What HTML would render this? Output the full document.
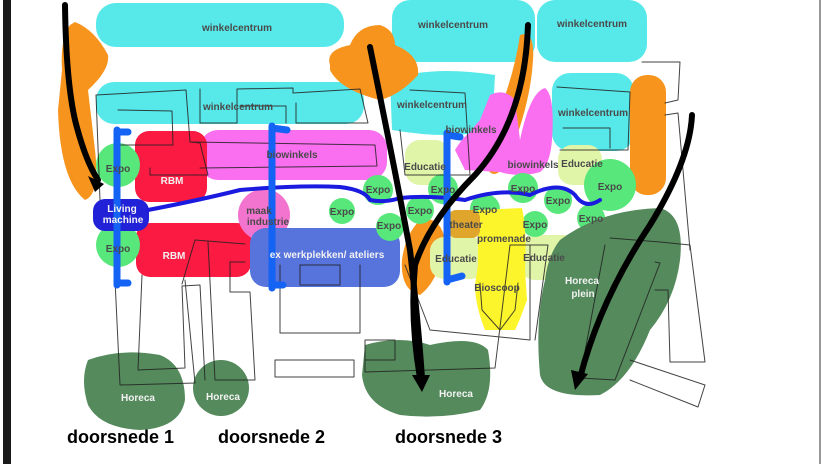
<!DOCTYPE html>
<html><head><meta charset="utf-8"><style>
html,body{margin:0;padding:0;background:#fff}
svg{display:block}
text{font-family:"Liberation Sans",Arial,sans-serif;font-weight:bold;font-size:10px;text-anchor:middle}
text.big{font-size:18px;fill:#000;text-anchor:start}
.d{fill:#4a4a4a}.w{fill:#f2f2f2}
</style></head><body>
<svg width="825" height="464" viewBox="0 0 825 464" xmlns="http://www.w3.org/2000/svg">
<rect x="0" y="0" width="825" height="464" fill="#fff"/>
<rect x="3" y="0" width="8" height="464" fill="#1a1a1a"/>
<rect x="819" y="0" width="2" height="464" fill="#999"/>
<g stroke-linecap="round" stroke-linejoin="round">
<rect x="96" y="3" width="248" height="44" rx="20" fill="#57e9ea"/>
<rect x="392" y="0" width="143" height="62" rx="18" fill="#57e9ea"/>
<rect x="537" y="0" width="110" height="62" rx="18" fill="#57e9ea"/>
<rect x="96" y="82" width="268" height="42" rx="18" fill="#57e9ea"/>
<path d="M390 80 Q430 65 495 75 L492 130 Q450 140 392 130 Z" fill="#57e9ea"/>
<rect x="552" y="73" width="82" height="78" rx="18" fill="#57e9ea"/>
<path d="M70 25 Q60 40 62 70 L58 110 Q60 180 85 200 Q100 195 95 150 L88 90 Q110 70 108 55 Q95 30 75 22Z" fill="#f7941d"/>
<path d="M330 65 Q325 50 350 45 Q358 25 380 25 Q395 30 395 45 Q420 55 418 75 Q400 95 380 100 Q340 90 330 70Z" fill="#f7941d"/>
<path d="M520 35 Q535 30 533 60 Q530 110 505 165 Q495 180 488 170 Q485 150 500 110 Q515 70 520 35Z" fill="#f7941d"/>
<rect x="630" y="75" width="36" height="120" rx="17" fill="#f7941d"/>
<path d="M420 220 Q440 215 445 240 Q440 280 420 295 Q400 290 402 260 Q405 235 420 220Z" fill="#f7941d"/>
<rect x="200" y="130" width="187" height="50" rx="18" fill="#fa6ef0"/>
<path d="M465 170 Q460 140 480 120 L490 95 Q505 88 515 100 L520 140 Q530 92 545 88 Q555 95 552 140 Q550 165 540 172 Q520 178 500 172 Z" fill="#fa6ef0"/>
<path d="M455 150 Q470 125 485 130 L495 140 Q485 165 465 170Z" fill="#fa6ef0"/>
<rect x="135" y="131" width="72" height="71" rx="14" fill="#fb1a41"/>
<rect x="136" y="223" width="115" height="54" rx="14" fill="#fb1a41"/>
<circle cx="264" cy="215" r="26" fill="#f274cf"/>
<rect x="250" y="228" width="150" height="59" rx="16" fill="#5773dc"/>
<rect x="405" y="140" width="45" height="45" rx="15" fill="#e1f5a9"/>
<rect x="558" y="145" width="44" height="40" rx="14" fill="#e1f5a9"/>
<rect x="430" y="237" width="55" height="42" rx="14" fill="#e1f5a9"/>
<rect x="520" y="235" width="58" height="45" rx="15" fill="#e1f5a9"/>
<g fill="#57e77a">
<circle cx="118" cy="165" r="22"/><circle cx="118" cy="245" r="22"/>
<circle cx="378" cy="190" r="15"/><circle cx="342" cy="211" r="13"/>
<circle cx="390" cy="227" r="14"/><circle cx="420" cy="210" r="14"/>
<circle cx="443" cy="189" r="15"/><circle cx="485" cy="209" r="15"/>
<circle cx="523" cy="188" r="15"/><circle cx="558" cy="200" r="14"/>
<circle cx="610" cy="185" r="26"/><circle cx="591" cy="218" r="14"/>
<circle cx="535" cy="224" r="13"/>
</g>
<path d="M478 210 L522 208 Q527 230 525 270 L527 300 Q520 320 515 330 L485 330 Q475 305 475 285 L478 265 Z" fill="#fdf52c"/>
<rect x="448" y="210" width="32" height="28" rx="8" fill="#e0a52b"/>
<path d="M88 360 Q120 348 160 355 Q185 365 185 400 Q180 428 140 430 Q100 428 88 405 Q80 380 88 360Z" fill="#548a5c"/>
<circle cx="221" cy="388" r="28" fill="#548a5c"/>
<path d="M365 345 Q400 335 430 345 Q475 335 488 350 Q495 390 480 410 Q440 420 400 415 Q365 405 362 375Z" fill="#548a5c"/>
<path d="M560 240 Q600 210 660 208 Q685 215 680 260 Q675 300 650 330 Q630 380 600 395 Q545 398 540 375 Q535 320 545 280 Q548 255 560 240Z" fill="#548a5c"/>
<rect x="93" y="199" width="56" height="32" rx="12" fill="#2121d8"/>
<g fill="none" stroke="#222" stroke-width="1" opacity="0.85">
<polyline points="96,95 186,90 190,142 200,143 208,175 150,175 150,168"/>
<polyline points="118,110 172,111 173,145 120,145"/>
<polyline points="200,89 200,123 237,123 237,89 293,88 293,93 360,89 368,123 296,123 296,103"/>
<polyline points="240,106 286,106 286,123"/>
<polyline points="190,142 375,145 377,166 200,168"/>
<polyline points="96,95 100,200"/>
<polyline points="115,280 120,385 195,383 185,280"/>
<polyline points="142,275 138,370 185,368 182,286 200,285 205,380"/>
<polyline points="208,242 215,380 255,380 250,292 230,292 230,262 245,262"/>
<polyline points="182,284 195,240 245,244"/>
<polyline points="280,265 280,333 360,333 360,265"/>
<polyline points="300,265 340,265 340,285 300,285 300,265"/>
<rect x="275" y="360" width="79" height="17"/>
<polyline points="365,340 395,340 395,360 365,360 365,340"/>
<polyline points="365,357 365,372 430,370 495,368 510,245 548,245 535,340"/>
<polyline points="400,130 405,175 470,175 465,93 410,90"/>
<polyline points="405,265 430,330 530,340 530,245"/>
<polyline points="480,283 482,310 500,330 515,310 518,283"/>
<polyline points="610,238 660,242 690,245 705,362 670,362 668,290 655,290"/>
<polyline points="605,245 580,378 615,380 660,263 655,262"/>
<polyline points="642,62 680,62 678,100 665,103"/>
<polyline points="665,115 678,113 690,250"/>
<polyline points="630,360 705,385 698,407 630,380"/>
<polyline points="557,87 630,92 628,150 560,150"/>
<polyline points="563,128 610,128 610,148"/>
</g>
<path d="M148 210 Q200 200 240 190 Q300 185 340 187 Q365 190 370 200 Q385 203 400 198 Q430 195 465 200 Q500 188 530 195 Q560 180 575 195 Q585 210 600 200" fill="none" stroke="#1b1be0" stroke-width="4"/>
<g stroke="#1463f5" stroke-width="7" fill="none">
<path d="M117 130 L117 285 M117 132 L128 132 M117 283 L128 283"/>
<path d="M272 126 L272 288 M272 128 L287 130 M272 285 L283 285"/>
<path d="M447 133 L447 282 M447 135 L460 137 M447 280 L462 276"/>
</g>
<g stroke="#000" stroke-width="6" fill="none">
<path d="M65 5 Q66 80 75 120 Q85 160 98 180"/>
<path d="M370 47 Q395 170 410 250 Q418 320 422 378"/>
<path d="M528 25 Q525 120 475 175 Q430 220 415 265 Q410 320 420 378"/>
<path d="M692 115 Q690 160 650 225 Q600 300 580 378"/>
</g>
<g fill="#000" stroke="none">
<path d="M88 176 L104 184 L95 192Z"/>
<path d="M412 375 L430 375 L422 392Z"/>
<path d="M571 370 L588 374 L575 390Z"/>
</g>
</g>
<text x="237" y="31" class="d">winkelcentrum</text>
<text x="453" y="28" class="d">winkelcentrum</text>
<text x="592" y="27" class="d">winkelcentrum</text>
<text x="238" y="110" class="d">winkelcentrum</text>
<text x="432" y="108" class="d">winkelcentrum</text>
<text x="593" y="116" class="d">winkelcentrum</text>
<text x="292" y="158" class="d">biowinkels</text>
<text x="471" y="133" class="d">biowinkels</text>
<text x="533" y="168" class="d">biowinkels</text>
<text x="425" y="170" class="d">Educatie</text>
<text x="582" y="167" class="d">Educatie</text>
<text x="456" y="262" class="d">Educatie</text>
<text x="544" y="261" class="d">Educatie</text>
<text x="172" y="184" class="w">RBM</text>
<text x="174" y="259" class="w">RBM</text>
<text x="118" y="172" class="d">Expo</text>
<text x="118" y="252" class="d">Expo</text>
<text x="378" y="193" class="d">Expo</text>
<text x="342" y="215" class="d">Expo</text>
<text x="389" y="229" class="d">Expo</text>
<text x="420" y="214" class="d">Expo</text>
<text x="443" y="193" class="d">Expo</text>
<text x="485" y="213" class="d">Expo</text>
<text x="523" y="192" class="d">Expo</text>
<text x="558" y="204" class="d">Expo</text>
<text x="610" y="190" class="d">Expo</text>
<text x="591" y="222" class="d">Expo</text>
<text x="535" y="228" class="d">Expo</text>
<text x="466" y="228" class="d">theater</text>
<text x="504" y="242" class="d">promenade</text>
<text x="497" y="291" class="d">Bioscoop</text>
<text x="122" y="212" class="w">Living</text>
<text x="123" y="223" class="w">machine</text>
<text x="259" y="214" class="d">maak</text>
<text x="268" y="225" class="d">industrie</text>
<text x="327" y="258" class="w">ex werkplekken/ ateliers</text>
<text x="138" y="401" class="w">Horeca</text>
<text x="223" y="400" class="w">Horeca</text>
<text x="456" y="397" class="w">Horeca</text>
<text x="582" y="284" class="w">Horeca</text>
<text x="583" y="297" class="w">plein</text>
<text x="67" y="443" class="big">doorsnede 1</text>
<text x="218" y="443" class="big">doorsnede 2</text>
<text x="395" y="443" class="big">doorsnede 3</text>
</svg>
</body></html>
